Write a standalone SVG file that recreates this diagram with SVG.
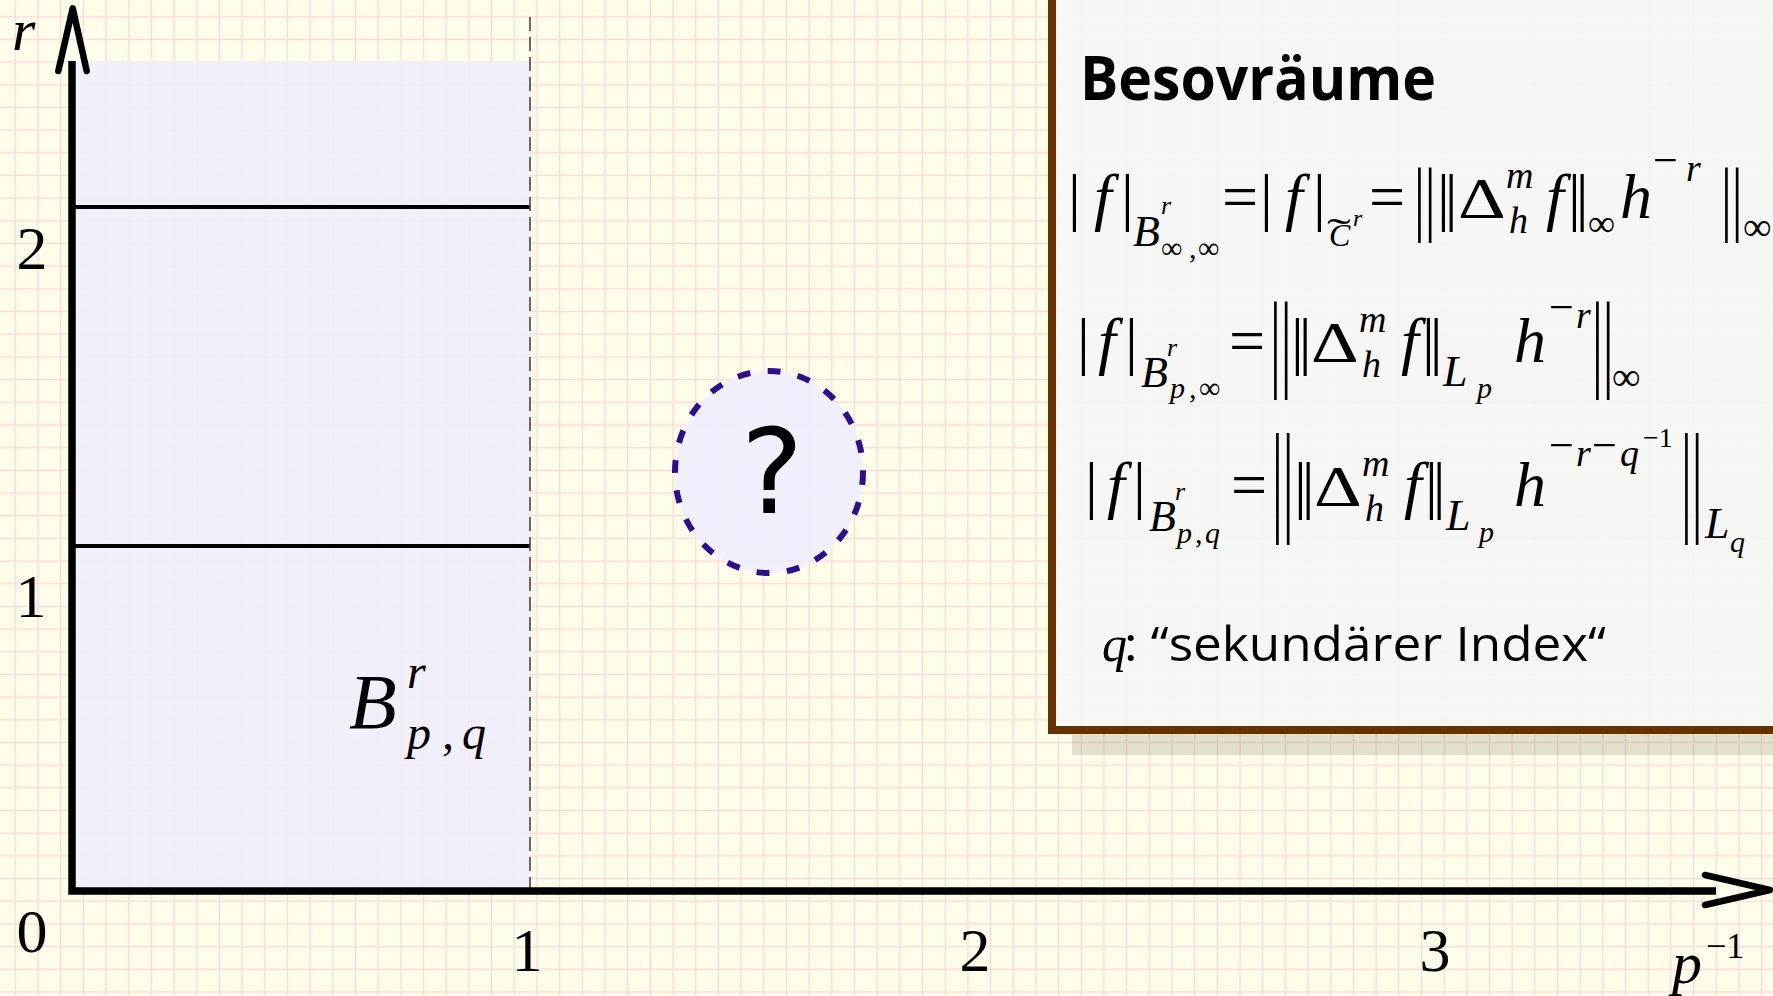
<svg xmlns="http://www.w3.org/2000/svg" width="1773" height="996" viewBox="0 0 1773 996">
<defs>
<pattern id="grid" x="3.96" y="5.36" width="22.68" height="22.68" patternUnits="userSpaceOnUse">
<path d="M11.34 0V22.68M0 11.34H22.68" stroke="#fbdada" stroke-width="1.5" fill="none"/>
</pattern>
<style>
.m{font-family:"Liberation Serif","Times New Roman",serif;fill:#000}
.i{font-style:italic}
.s{font-family:"Open Sans","Liberation Sans",Arial,sans-serif;fill:#000}
.ax{stroke:#000;fill:none}
.chev{stroke:#000;fill:none;stroke-width:6.5;stroke-linecap:round;stroke-linejoin:round}
.n{font-size:64px}
.bb{font-size:54px}
.sub{font-size:44px}
.ss{font-size:30px}
.sm{font-size:38px}
.mn{font-size:44px}
.tn{font-size:26px}
</style>
</defs>
<rect width="1773" height="996" fill="#fffeeb"/>
<rect width="1773" height="996" fill="url(#grid)"/>

<g id="region-b">
<rect x="72" y="61" width="458" height="830" fill="#efeefc" fill-opacity="0.88"/>
<line x1="72" y1="207" x2="530" y2="207" stroke="#000" stroke-width="4"/>
<line x1="72" y1="546" x2="530" y2="546" stroke="#000" stroke-width="4"/>
<line x1="530" y1="17" x2="530" y2="891" stroke="#444" stroke-width="1.6" stroke-dasharray="14 6"/>
<text class="m i" font-size="78" x="349" y="728">B</text>
<text class="m i" font-size="48" x="407" y="688">r</text>
<text class="m i" font-size="48" y="749"><tspan x="407">p</tspan><tspan x="442">,</tspan><tspan x="462">q</tspan></text>
</g>

<g id="question">
<ellipse cx="769" cy="472" rx="94" ry="101" fill="#eeeeff" fill-opacity="0.9" stroke="#2d0f8c" stroke-width="6" stroke-dasharray="13 17.5"/>
<text x="772" y="513" font-family="DejaVu Sans, sans-serif" font-size="118" text-anchor="middle">?</text>
</g>

<g id="connectors">
<path class="ax" d="M72 61V891H1716" stroke-width="7.5"/>
<path class="chev" d="M58.3 71L72.7 8.3L86.7 71"/>
<path class="chev" d="M1705 875L1770 890L1705 905"/>
</g>

<g id="axis-labels">
<text class="m i" font-size="60" x="12" y="50">r</text>
<text class="m" font-size="62" x="32" y="952" text-anchor="middle">0</text>
<text class="m" font-size="62" x="31" y="617" text-anchor="middle">1</text>
<text class="m" font-size="62" x="32" y="269" text-anchor="middle">2</text>
<text class="m" font-size="62" x="527" y="971" text-anchor="middle">1</text>
<text class="m" font-size="62" x="975" y="971" text-anchor="middle">2</text>
<text class="m" font-size="62" x="1435" y="971" text-anchor="middle">3</text>
<text class="m i" font-size="60" x="1672" y="983">p</text>
<text class="m" font-size="36" x="1706" y="958">−1</text>
</g>

<g id="formula-box">
<rect x="1072" y="-20" width="760" height="775" fill="#707050" fill-opacity="0.2"/>
<rect x="1052" y="-20" width="760" height="750" fill="#f8f8f6" fill-opacity="0.93" stroke="#663300" stroke-width="8"/>
<text class="s" font-size="60" font-weight="bold" x="1080" y="100" textLength="356" lengthAdjust="spacingAndGlyphs">Besovräume</text>

<g id="formula-1">
<text class="m n" x="1068" y="218">|</text>
<text class="m i n" x="1094" y="218">f</text>
<text class="m n" x="1121" y="218">|</text>
<text class="m i sub" x="1133" y="246">B</text>
<text class="m i tn" x="1161" y="214">r</text>
<text class="m ss" y="258"><tspan x="1161">∞</tspan><tspan x="1189">,</tspan><tspan x="1198">∞</tspan></text>
<text class="m n" x="1222" y="218">=</text>
<text class="m n" x="1260" y="218">|</text>
<text class="m i n" x="1285" y="218">f</text>
<text class="m n" x="1313" y="218">|</text>
<text class="m i" font-size="32" x="1329" y="246">C</text>
<text class="m" font-size="40" transform="translate(1327,246) scale(1.8,1)">˜</text>
<text class="m i" font-size="24" x="1353" y="226">r</text>
<text class="m n" x="1369" y="218">=</text>
<text class="m bb" transform="translate(1414,225) scale(1,1.52)">||</text>
<text class="m n" x="1437" y="218" letter-spacing="-5">||</text>
<text class="m" font-size="58" transform="translate(1458,218) scale(1.28,1)">Δ</text>
<text class="m i sm" x="1506" y="188">m</text>
<text class="m i sm" x="1509" y="233">h</text>
<text class="m i n" x="1546" y="218">f</text>
<text class="m n" x="1568" y="218" letter-spacing="-5">||</text>
<text class="m sm" x="1588" y="236">∞</text>
<text class="m i n" x="1620" y="218">h</text>
<text class="m mn" x="1653" y="175">−</text>
<text class="m i sm" x="1686" y="181">r</text>
<text class="m bb" transform="translate(1721,225) scale(1,1.52)">||</text>
<text class="m" font-size="40" x="1743" y="240">∞</text>
</g>

<g id="formula-2">
<text class="m n" x="1077" y="362">|</text>
<text class="m i n" x="1098" y="362">f</text>
<text class="m n" x="1125" y="362">|</text>
<text class="m i sub" x="1141" y="387">B</text>
<text class="m i tn" x="1167" y="356">r</text>
<text class="m ss" y="398"><tspan x="1170" font-style="italic">p</tspan><tspan x="1189">,</tspan><tspan x="1199">∞</tspan></text>
<text class="m n" x="1229" y="362">=</text>
<text class="m bb" transform="translate(1270,377) scale(1,2)">||</text>
<text class="m n" x="1291" y="362" letter-spacing="-5">||</text>
<text class="m" font-size="58" transform="translate(1311,362) scale(1.28,1)">Δ</text>
<text class="m i sm" x="1359" y="332">m</text>
<text class="m i sm" x="1362" y="377">h</text>
<text class="m i n" x="1401" y="362">f</text>
<text class="m n" x="1422" y="362" letter-spacing="-5">||</text>
<text class="m i sub" x="1443" y="386">L</text>
<text class="m i ss" x="1477" y="398">p</text>
<text class="m i n" x="1514" y="362">h</text>
<text class="m mn" x="1549" y="322">−</text>
<text class="m i sm" x="1576" y="328">r</text>
<text class="m bb" transform="translate(1592,377) scale(1,2)">||</text>
<text class="m" font-size="40" x="1612" y="390">∞</text>
</g>

<g id="formula-3">
<text class="m n" x="1085" y="506">|</text>
<text class="m i n" x="1107" y="506">f</text>
<text class="m n" x="1133" y="506">|</text>
<text class="m i sub" x="1149" y="531">B</text>
<text class="m i tn" x="1175" y="500">r</text>
<text class="m i ss" y="543"><tspan x="1177">p</tspan><tspan x="1195" font-style="normal">,</tspan><tspan x="1205">q</tspan></text>
<text class="m n" x="1231" y="506">=</text>
<text class="m bb" transform="translate(1272,519) scale(1,2.29)">||</text>
<text class="m n" x="1294" y="506" letter-spacing="-5">||</text>
<text class="m" font-size="58" transform="translate(1314,506) scale(1.28,1)">Δ</text>
<text class="m i sm" x="1362" y="476">m</text>
<text class="m i sm" x="1365" y="521">h</text>
<text class="m i n" x="1404" y="506">f</text>
<text class="m n" x="1425" y="506" letter-spacing="-5">||</text>
<text class="m i sub" x="1446" y="530">L</text>
<text class="m i ss" x="1479" y="542">p</text>
<text class="m i n" x="1514" y="506">h</text>
<text class="m mn" x="1549" y="460">−</text>
<text class="m i sm" x="1576" y="466">r</text>
<text class="m mn" x="1592" y="460">−</text>
<text class="m i sm" x="1620" y="466">q</text>
<text class="m" font-size="28" x="1643" y="447">−1</text>
<text class="m bb" transform="translate(1681,519) scale(1,2.29)">||</text>
<text class="m i sub" x="1705" y="538">L</text>
<text class="m i" font-size="30" x="1730" y="552">q</text>
</g>

<text class="m i" font-size="50" x="1102" y="661">q</text>
<text class="s" font-size="47" x="1124" y="661" textLength="482" lengthAdjust="spacingAndGlyphs">: “sekundärer Index“</text>
</g>
</svg>
